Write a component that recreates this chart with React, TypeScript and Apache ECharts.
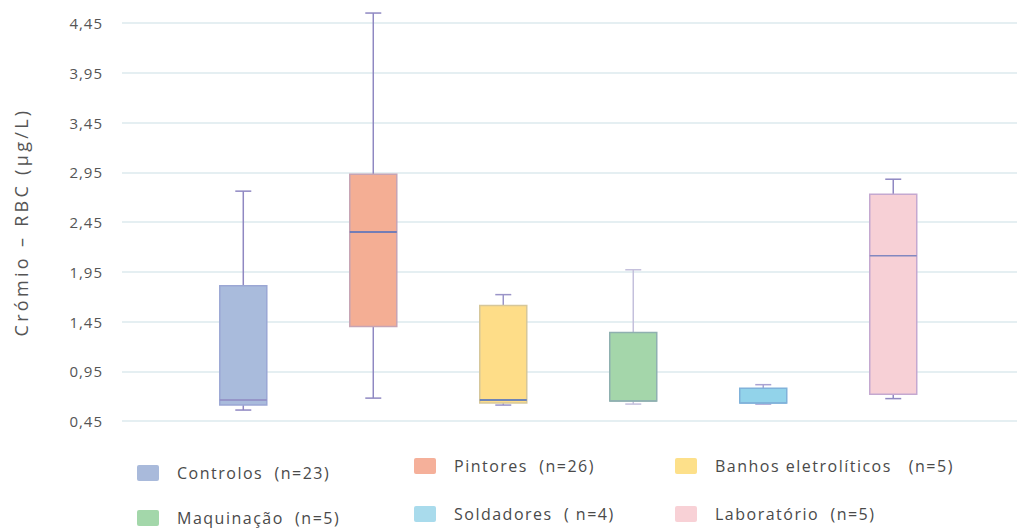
import React, { useEffect, useRef } from "react";
import * as echarts from "echarts";

// ---- data ----
const categories = [
  "Controlos  (n=23)",
  "Pintores  (n=26)",
  "Banhos eletrolíticos   (n=5)",
  "Maquinação  (n=5)",
  "Soldadores  ( n=4)",
  "Laboratório  (n=5)",
];
const lowWhisker = [0.56, 0.68, 0.61, 0.62, 0.62, 0.675];
const q1 = [0.61, 1.4, 0.63, 0.65, 0.63, 0.72];
const median = [0.66, 2.35, 0.66, 0.65, 0.63, 2.11];
const q3 = [1.81, 2.93, 1.61, 1.34, 0.78, 2.73];
const highWhisker = [2.76, 4.55, 1.72, 1.97, 0.815, 2.88];
const yTicks = [0.45, 4.45, 0.5]; // min, max, interval
const yAxisTitle = "Crómio – RBC (μg/L)";

// ---- styles ----
const fillColors = ["#a9bbdc", "#f4ae94", "#fedd88", "#a4d6aa", "#92d3ea", "#f7d0d6"];
const legendColors = ["#a9badb", "#f5b09a", "#fde08a", "#a3d7aa", "#a9dbec", "#f8d1d6"];
const borderColors = ["#9ba7d4", "#c6a4b4", "#d6c79a", "#8fb0b0", "#80b2da", "#c4a8d0"];
const medianColors = ["#8f88c2", "#4a6cc0", "#3f66c4", "#8fb0b0", "#80b2da", "#8288c0"];
const whiskerColors = ["#8f88c2", "#8f88c2", "#9a94c8", "#c4c0dc", "#a9a3d3", "#8f88c2"];
const legendPos = [
  { x: 137, y: 473 },
  { x: 414, y: 466 },
  { x: 675, y: 466 },
  { x: 137, y: 518 },
  { x: 414, y: 514 },
  { x: 675, y: 514 },
];
const FONT = "'Open Sans', 'Noto Sans', sans-serif";

export default function App() {
  const ref = useRef<HTMLDivElement>(null);
  useEffect(() => {
    document.body.style.margin = "0";
    const el = ref.current!;
    const chart = echarts.init(el, null, { renderer: "svg" });
    const data = categories.map((_, i) => [i, lowWhisker[i], q1[i], median[i], q3[i], highWhisker[i]]);

    const legendGraphics: any[] = [];
    categories.forEach((name, i) => {
      const p = legendPos[i];
      legendGraphics.push({
        type: "rect",
        shape: { x: p.x, y: p.y - 8, width: 22, height: 16, r: 2 },
        style: { fill: legendColors[i] },
      });
      legendGraphics.push({
        type: "text",
        x: p.x + 40,
        y: p.y,
        style: {
          text: name,
          fill: "#4a4a4a",
          fontSize: 16,
          fontFamily: FONT,
          verticalAlign: "middle",
          align: "left",
        },
      });
    });

    chart.setOption({
      animation: false,
      grid: { left: 122, right: 0, top: 23, bottom: 108 },
      xAxis: { type: "value", min: -0.933, max: 5.952, show: false },
      yAxis: {
        type: "value",
        min: yTicks[0],
        max: yTicks[1],
        interval: yTicks[2],
        name: yAxisTitle,
        nameLocation: "middle",
        nameRotate: 90,
        nameGap: 92,
        nameTextStyle: { fontSize: 18, color: "#555", fontFamily: FONT },
        axisLine: { show: false },
        axisTick: { show: false },
        axisLabel: {
          margin: 19,
          fontSize: 15,
          color: "#555",
          fontFamily: FONT,
          formatter: (v: number) => v.toFixed(2).replace(".", ","),
        },
        splitLine: { lineStyle: { color: "#dceaee", width: 1.5 } },
      },
      graphic: legendGraphics,
      series: [
        {
          type: "custom",
          data,
          encode: { x: 0, y: [1, 2, 3, 4, 5] },
          renderItem: (params: any, api: any) => {
            const i = params.dataIndex;
            const xi = api.value(0);
            const pLow = api.coord([xi, api.value(1)]);
            const pQ1 = api.coord([xi, api.value(2)]);
            const pMed = api.coord([xi, api.value(3)]);
            const pQ3 = api.coord([xi, api.value(4)]);
            const pHigh = api.coord([xi, api.value(5)]);
            const x = pQ1[0];
            const bw = 47;
            const cw = 16;
            const ws = { stroke: whiskerColors[i], lineWidth: 1.5 };
            return {
              type: "group",
              children: [
                { type: "line", shape: { x1: x, y1: pHigh[1], x2: x, y2: pQ3[1] }, style: ws },
                { type: "line", shape: { x1: x, y1: pQ1[1], x2: x, y2: pLow[1] }, style: ws },
                { type: "line", shape: { x1: x - cw / 2, y1: pHigh[1], x2: x + cw / 2, y2: pHigh[1] }, style: ws },
                { type: "line", shape: { x1: x - cw / 2, y1: pLow[1], x2: x + cw / 2, y2: pLow[1] }, style: ws },
                {
                  type: "rect",
                  shape: { x: x - bw / 2, y: pQ3[1], width: bw, height: pQ1[1] - pQ3[1] },
                  style: { fill: fillColors[i], stroke: borderColors[i], lineWidth: 1.5 },
                },
                {
                  type: "line",
                  shape: { x1: x - bw / 2, y1: pMed[1], x2: x + bw / 2, y2: pMed[1] },
                  style: { stroke: medianColors[i], lineWidth: 1.5 },
                },
              ],
            };
          },
        },
      ],
    });

    // letter spacing / whitespace preservation on rendered SVG texts
    const texts = el.querySelectorAll("text");
    texts.forEach((t) => {
      const s = t.textContent || "";
      let ls = 1;
      if (s === yAxisTitle) ls = 3.3;
      else if (categories.includes(s)) ls = 1.5;
      (t as any).style.letterSpacing = ls + "px";
      (t as any).style.whiteSpace = "pre";
    });

    return () => chart.dispose();
  }, []);
  return (
    <div
      ref={ref}
      style={{ position: "fixed", left: 0, top: 0, width: 1017, height: 529, background: "#fff" }}
    />
  );
}
